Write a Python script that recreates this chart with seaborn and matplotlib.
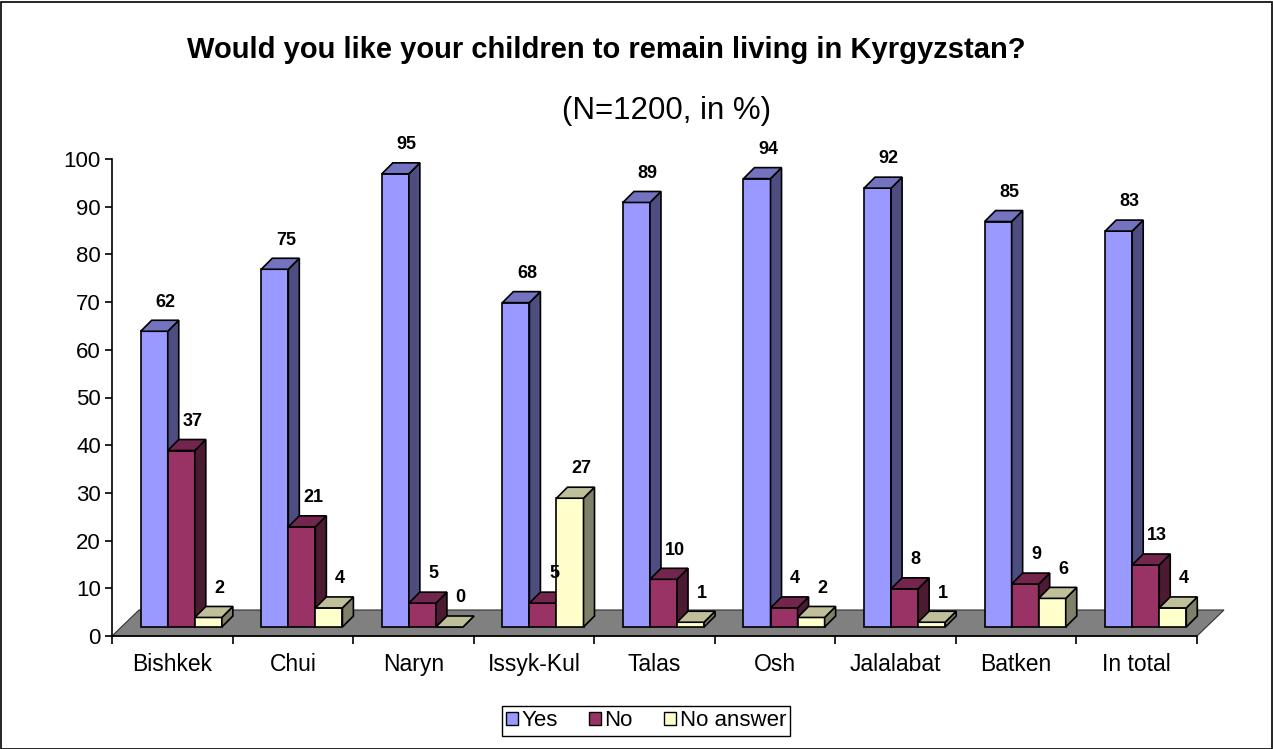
import matplotlib
matplotlib.use("Agg")
import matplotlib.pyplot as plt
import seaborn as sns
import pandas as pd
import numpy as np
from matplotlib.patches import Polygon, Patch, Rectangle

categories = ["Bishkek", "Chui", "Naryn", "Issyk-Kul", "Talas", "Osh", "Jalalabat", "Batken", "In total"]
series = ["Yes", "No", "No answer"]
yes_vals = [62, 75, 95, 68, 89, 94, 92, 85, 83]
no_vals = [37, 21, 5, 5, 10, 4, 8, 9, 13]
na_vals = [2, 4, 0, 27, 1, 2, 1, 6, 4]

front_colors = ["#9999FF", "#993366", "#FFFFCC"]
side_colors = ["#4D4D80", "#4D1A33", "#80806A"]
top_colors = ["#7373BF", "#73264D", "#BFBF99"]

df = pd.DataFrame({
    "Region": categories * 3,
    "Answer": sum([[s] * len(categories) for s in series], []),
    "Value": yes_vals + no_vals + na_vals,
})

sns.set_theme(style="white")
plt.rcParams["font.family"] = ["Liberation Sans", "DejaVu Sans"]
plt.rcParams["text.color"] = "black"
plt.rcParams["xtick.color"] = "black"
plt.rcParams["ytick.color"] = "black"
plt.rcParams["axes.labelcolor"] = "black"

fig = plt.figure(figsize=(12.73, 7.49), dpi=100)
ax = fig.add_axes([112 / 1273, 1 - 636 / 749, (1197 - 112) / 1273, (636 - 159) / 749])

sns.barplot(data=df, x="Region", y="Value", hue="Answer", hue_order=series,
            palette=front_colors, width=0.673, dodge=True, legend=False,
            edgecolor="black", linewidth=1.2, saturation=1, ax=ax, errorbar=None)

ax.set_xlim(-0.5, len(categories) - 0.5)
ax.set_ylim(0, 100)

# 3D offsets in data units
px_x = (1197 - 112) / len(categories)
px_y = (636 - 159) / 100.0
shift_x, shift_y = 9 / px_x, 9 / px_y      # bar placement on the floor
dep_x, dep_y = 11 / px_x, 11 / px_y        # bar depth
floor_x, floor_y = 27 / px_x, 26 / px_y    # floor depth

# floor
x0, x1 = -0.5, len(categories) - 0.5
floor = Polygon([(x0, 0), (x1, 0), (x1 + floor_x, floor_y), (x0 + floor_x, floor_y)],
                closed=True, facecolor="#808080", edgecolor="#303030", linewidth=0.8,
                zorder=1, clip_on=False)

values = [yes_vals, no_vals, na_vals]
patches = list(ax.patches)
ax.add_patch(floor)
n = len(categories)
for si in range(len(series)):
    for ci in range(n):
        p = patches[si * n + ci]
        x = p.get_x() + shift_x
        w = p.get_width()
        h = values[si][ci]
        b = shift_y
        p.set_x(x)
        p.set_y(b)
        p.set_height(h)
        z = 3 + si
        p.set_zorder(z)
        p.set_clip_on(False)
        side = Polygon([(x + w, b), (x + w + dep_x, b + dep_y), (x + w + dep_x, b + h + dep_y), (x + w, b + h)],
                       closed=True, facecolor=side_colors[si], edgecolor="black", linewidth=1.2,
                       zorder=z + 0.1, clip_on=False)
        top = Polygon([(x, b + h), (x + w, b + h), (x + w + dep_x, b + h + dep_y), (x + dep_x, b + h + dep_y)],
                      closed=True, facecolor=top_colors[si], edgecolor="black", linewidth=1.2,
                      zorder=z + 0.2, clip_on=False)
        ax.add_patch(side)
        ax.add_patch(top)
        ax.annotate(f"{h}", xy=(x + w / 2 + dep_x / 2, b + h + dep_y), xytext=(4, 7),
                    textcoords="offset points", ha="center", va="bottom",
                    fontsize=13, fontweight="bold", annotation_clip=False, zorder=10)

# axes styling
for s in ["top", "right"]:
    ax.spines[s].set_visible(False)
for s in ["left", "bottom"]:
    ax.spines[s].set_color("black")
    ax.spines[s].set_linewidth(1.2)
    ax.spines[s].set_zorder(2)
ax.set_yticks(np.arange(0, 101, 10))
ax.set_xticks(np.arange(-0.5, n, 1.0), minor=False)
ax.set_xticklabels([])
ax.set_xticks(np.arange(n), minor=True)
ax.set_xticklabels(categories, minor=True)
ax.tick_params(axis="x", which="major", direction="out", length=6, width=1.2, color="black", bottom=True)
ax.tick_params(axis="x", which="minor", length=0, pad=12, labelsize=16.5)
ax.tick_params(axis="y", direction="out", length=5, width=1.2, color="black", left=True, labelsize=16, pad=3)
ax.set_xlabel("")
ax.set_ylabel("")
ax.grid(False)
ax.set_facecolor("none")

fig.text(606 / 1273, 1 - 50 / 749, "Would you like your children to remain living in Kyrgyzstan?",
         ha="center", va="center", fontsize=21, fontweight="bold")
fig.text(667 / 1273, 1 - 111 / 749, "(N=1200, in %)", ha="center", va="center", fontsize=22.5)

handles = [Patch(facecolor=c, edgecolor="black", linewidth=1.0) for c in front_colors]
fig.legend(handles, series, loc="center", bbox_to_anchor=(646 / 1273, 1 - 721 / 749), ncol=3,
           frameon=True, fancybox=False, edgecolor="black", fontsize=16,
           handlelength=0.55, handleheight=0.55, handletextpad=0.15, columnspacing=1.4,
           borderpad=0.2, framealpha=1)

fig.patches.append(Rectangle((0.5 / 1273, 0.5 / 749), 1 - 2 / 1273, 1 - 2 / 749, transform=fig.transFigure,
                             fill=False, edgecolor="black", linewidth=1.2, figure=fig))

fig.savefig("out.png", dpi=100, facecolor="white")
